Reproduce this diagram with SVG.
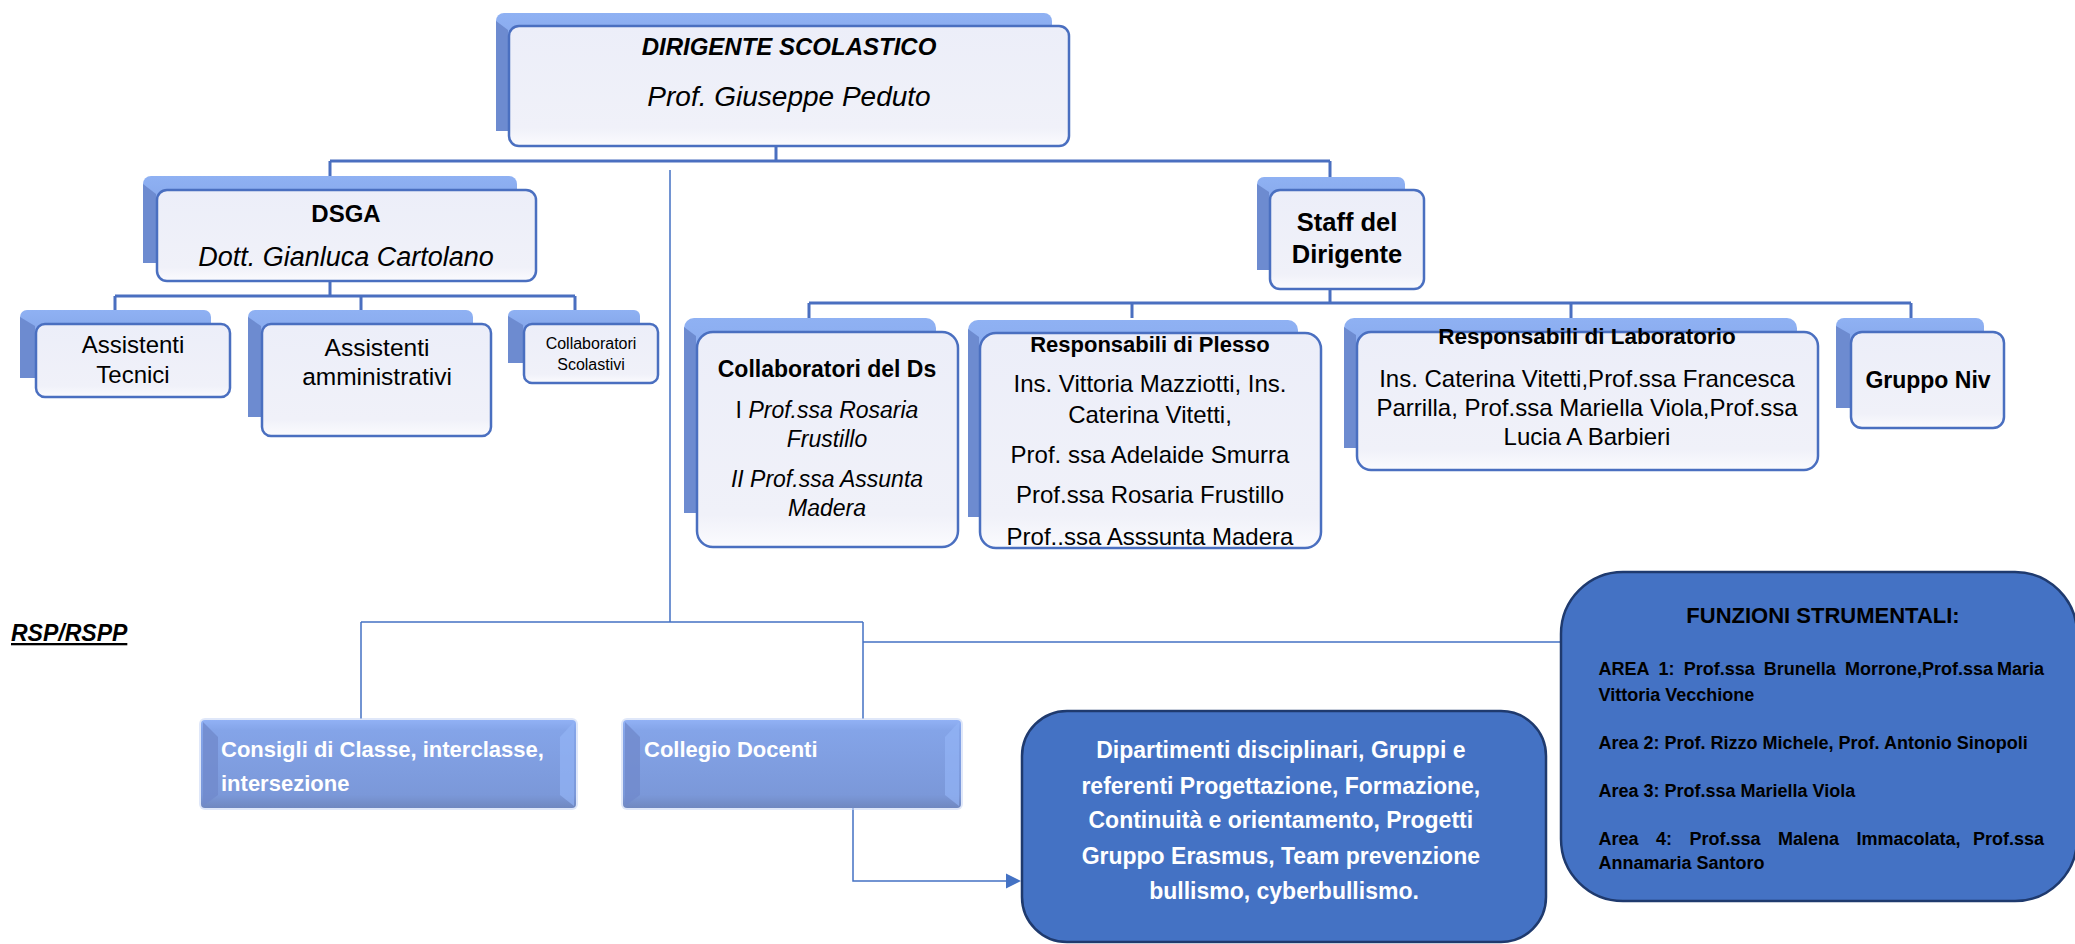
<svg xmlns="http://www.w3.org/2000/svg" width="2075" height="944" viewBox="0 0 2075 944">
<style>
.box{fill:url(#gFront);stroke:#4a6fc0;stroke-width:2.5}
.sh{fill:url(#gShadow)}
.shl{fill:#6d8bd0}
.bev{fill:url(#gBevel)}
.bevl{fill:#7189cc;opacity:.8}
.bevr{fill:#93b3f5;opacity:.7}
.dark{fill:#4472c4;stroke:#1f3a6e;stroke-width:2.5}
.t{font-family:'Liberation Sans',Arial,sans-serif;fill:#000}
.w{fill:#fff}
.b{font-weight:bold}
.i{font-style:italic}
.m{text-anchor:middle}
.conn{fill:none;stroke:#4a6fc0;stroke-width:3}
.thin{fill:none;stroke:#4472c4;stroke-width:1.5}
</style>
<defs>
<linearGradient id="gFront" x1="0" y1="0" x2="0" y2="1">
<stop offset="0" stop-color="#eceef9"/>
<stop offset="0.85" stop-color="#f0f1f9"/>
<stop offset="1" stop-color="#fbfbfe"/>
</linearGradient>
<linearGradient id="gShadow" x1="0" y1="0" x2="0" y2="1">
<stop offset="0" stop-color="#8fb1f3"/>
<stop offset="1" stop-color="#7393da"/>
</linearGradient>
<linearGradient id="gBevel" x1="0" y1="0" x2="0" y2="1">
<stop offset="0" stop-color="#91b1f5"/>
<stop offset="0.12" stop-color="#84a4e8"/>
<stop offset="0.85" stop-color="#7b98d9"/>
<stop offset="1" stop-color="#7088c0"/>
</linearGradient>
</defs>
<rect width="2075" height="944" fill="#fff"/>

<g id="connectors">
<path class="conn" d="M776 146 V161 M330 161 H1330 M330 161 V177 M1330 161 V178"/>
<path class="conn" d="M330 281 V296 M115 296 H575 M115 296 V310 M361 296 V310 M575 296 V310"/>
<path class="conn" d="M1330 288 V303 M809 303 H1911 M809 303 V318 M1132 303 V318 M1571 303 V318 M1911 303 V318"/>
<path class="thin" d="M670 170 V622 M361 622 H863 M361 622 V719 M863 622 V719 M863 642 H1561"/>
<path class="thin" d="M853 808 V881 H1006"/>
<path d="M1006 873.5 L1021 881 L1006 888.5 z" fill="#4472c4"/>
</g>

<g id="n-dirigente">
<rect class="sh" x="496" y="13" width="556" height="118" rx="8"/>
<polygon class="shl" points="496,21 508,30 508,131 496,131"/>
<rect class="box" x="509" y="26" width="560" height="120" rx="10"/>
<text class="t b i m" x="789" y="55" font-size="24">DIRIGENTE SCOLASTICO</text>
<text class="t i m" x="789" y="106" font-size="28">Prof. Giuseppe Peduto</text>
</g>

<g id="n-dsga">
<rect class="sh" x="143" y="176" width="374" height="87" rx="8"/>
<polygon class="shl" points="143,184 156,194 156,263 143,263"/>
<rect class="box" x="157" y="190" width="379" height="91" rx="10"/>
<text class="t b m" x="346" y="222" font-size="24">DSGA</text>
<text class="t i m" x="346" y="266" font-size="27">Dott. Gianluca Cartolano</text>
</g>

<g id="n-assistenti-tecnici">
<rect class="sh" x="20" y="310" width="191" height="68" rx="7"/>
<polygon class="shl" points="20,317 35,326 35,378 20,378"/>
<rect class="box" x="36" y="324" width="194" height="73" rx="9"/>
<text class="t m" x="133" y="353" font-size="24">Assistenti</text>
<text class="t m" x="133" y="383" font-size="24">Tecnici</text>
</g>

<g id="n-assistenti-amm">
<rect class="sh" x="248" y="310" width="225" height="107" rx="7"/>
<polygon class="shl" points="248,317 261,326 261,417 248,417"/>
<rect class="box" x="262" y="324" width="229" height="112" rx="9"/>
<text class="t m" x="377" y="356" font-size="24.5">Assistenti</text>
<text class="t m" x="377" y="385" font-size="24.5">amministrativi</text>
</g>

<g id="n-collaboratori-scol">
<rect class="sh" x="508" y="310" width="132" height="53" rx="6"/>
<polygon class="shl" points="508,316 523,325 523,363 508,363"/>
<rect class="box" x="524" y="324" width="134" height="59" rx="8"/>
<text class="t m" x="591" y="349" font-size="16">Collaboratori</text>
<text class="t m" x="591" y="370" font-size="16">Scolastivi</text>
</g>

<g id="n-staff">
<rect class="sh" x="1257" y="177" width="148" height="93" rx="7"/>
<polygon class="shl" points="1257,184 1269,192 1269,270 1257,270"/>
<rect class="box" x="1270" y="190" width="154" height="99" rx="10"/>
<text class="t b m" x="1347" y="231" font-size="25.5">Staff del</text>
<text class="t b m" x="1347" y="263" font-size="25.5">Dirigente</text>
</g>

<g id="n-collaboratori-ds">
<rect class="sh" x="684" y="318" width="252" height="195" rx="10"/>
<polygon class="shl" points="684,327 696,336 696,513 684,513"/>
<rect class="box" x="697" y="332" width="261" height="215" rx="16"/>
<text class="t b m" x="827" y="377" font-size="23">Collaboratori del Ds</text>
<text class="t m" x="827" y="418" font-size="23">I <tspan class="i">Prof.ssa Rosaria</tspan></text>
<text class="t i m" x="827" y="447" font-size="23">Frustillo</text>
<text class="t i m" x="827" y="487" font-size="23">II Prof.ssa Assunta</text>
<text class="t i m" x="827" y="516" font-size="23">Madera</text>
</g>

<g id="n-resp-plesso">
<rect class="sh" x="968" y="320" width="330" height="197" rx="10"/>
<polygon class="shl" points="968,329 979,337 979,517 968,517"/>
<rect class="box" x="980" y="333" width="341" height="215" rx="16"/>
<text class="t b m" x="1150" y="352" font-size="22">Responsabili di Plesso</text>
<text class="t m" x="1150" y="392" font-size="24">Ins. Vittoria Mazziotti, Ins.</text>
<text class="t m" x="1150" y="423" font-size="24">Caterina Vitetti,</text>
<text class="t m" x="1150" y="463" font-size="24">Prof. ssa Adelaide Smurra</text>
<text class="t m" x="1150" y="503" font-size="24">Prof.ssa Rosaria Frustillo</text>
<text class="t m" x="1150" y="545" font-size="24">Prof..ssa Asssunta Madera</text>
</g>

<g id="n-resp-lab">
<rect class="sh" x="1344" y="318" width="453" height="130" rx="10"/>
<polygon class="shl" points="1344,327 1356,335 1356,448 1344,448"/>
<rect class="box" x="1357" y="332" width="461" height="138" rx="14"/>
<text class="t b m" x="1587" y="344" font-size="22.5">Responsabili di Laboratorio</text>
<text class="t m" x="1587" y="387" font-size="24">Ins. Caterina Vitetti,Prof.ssa Francesca</text>
<text class="t m" x="1587" y="416" font-size="24">Parrilla, Prof.ssa Mariella Viola,Prof.ssa</text>
<text class="t m" x="1587" y="445" font-size="24">Lucia A Barbieri</text>
</g>

<g id="n-gruppo-niv">
<rect class="sh" x="1836" y="318" width="148" height="90" rx="8"/>
<polygon class="shl" points="1836,326 1850,334 1850,408 1836,408"/>
<rect class="box" x="1851" y="332" width="153" height="96" rx="11"/>
<text class="t b m" x="1928" y="388" font-size="23">Gruppo Niv</text>
</g>

<g id="n-rsp">
<text class="t b i" x="11" y="641" font-size="23" text-decoration="underline">RSP/RSPP</text>
</g>

<g id="n-consigli">
<rect x="199" y="718" width="379" height="92" rx="6" fill="#c9d7f5" opacity=".6"/>
<rect class="bev" x="201" y="720" width="375" height="88" rx="4"/>
<polygon class="bevl" points="203,722 218,737 218,795 203,806"/>
<polygon class="bevr" points="574,722 574,806 560,795 560,737"/>
<text class="t w b" x="221" y="757" font-size="22">Consigli di Classe, interclasse,</text>
<text class="t w b" x="221" y="791" font-size="22">intersezione</text>
</g>

<g id="n-collegio">
<rect x="621" y="718" width="342" height="92" rx="6" fill="#c9d7f5" opacity=".6"/>
<rect class="bev" x="623" y="720" width="338" height="88" rx="4"/>
<polygon class="bevl" points="625,722 640,737 640,795 625,806"/>
<polygon class="bevr" points="959,722 959,806 945,795 945,737"/>
<text class="t w b" x="644" y="757" font-size="22">Collegio Docenti</text>
</g>

<g id="n-dipartimenti">
<rect class="dark" x="1022" y="711" width="524" height="231" rx="45"/>
<text class="t w b m" font-size="23">
<tspan x="1284" y="758">Dipartimenti disciplinari, Gruppi e</tspan>
<tspan x="1284" y="794">referenti Progettazione, Formazione,</tspan>
<tspan x="1284" y="828">Continuità e orientamento, Progetti</tspan>
<tspan x="1284" y="864">Gruppo Erasmus, Team prevenzione</tspan>
<tspan x="1284" y="899">bullismo, cyberbullismo.</tspan>
</text>
</g>

<g id="n-funzioni">
<rect class="dark" x="1561" y="572" width="516" height="329" rx="62"/>
<text class="t b m" x="1823" y="623" font-size="22">FUNZIONI STRUMENTALI:</text>
<text class="t b" font-size="18">
<tspan x="1598.5" y="675">AREA</tspan><tspan x="1658.6" y="675">1:</tspan><tspan x="1683.7" y="675">Prof.ssa</tspan><tspan x="1763.8" y="675">Brunella</tspan><tspan x="1844.9" y="675">Morrone,Prof.ssa</tspan><tspan x="2049" y="675" text-anchor="end">Maria</tspan>
<tspan x="1598.5" y="701">Vittoria Vecchione</tspan>
<tspan x="1598.5" y="749">Area 2: Prof. Rizzo Michele, Prof. Antonio Sinopoli</tspan>
<tspan x="1598.5" y="797">Area 3: Prof.ssa Mariella Viola</tspan>
<tspan x="1598.5" y="845">Area</tspan><tspan x="1656" y="845">4:</tspan><tspan x="1689.5" y="845">Prof.ssa</tspan><tspan x="1778" y="845">Malena</tspan><tspan x="1856.5" y="845">Immacolata,</tspan><tspan x="2049" y="845" text-anchor="end">Prof.ssa</tspan>
<tspan x="1598.5" y="869">Annamaria Santoro</tspan>
</text>
</g>
</svg>
